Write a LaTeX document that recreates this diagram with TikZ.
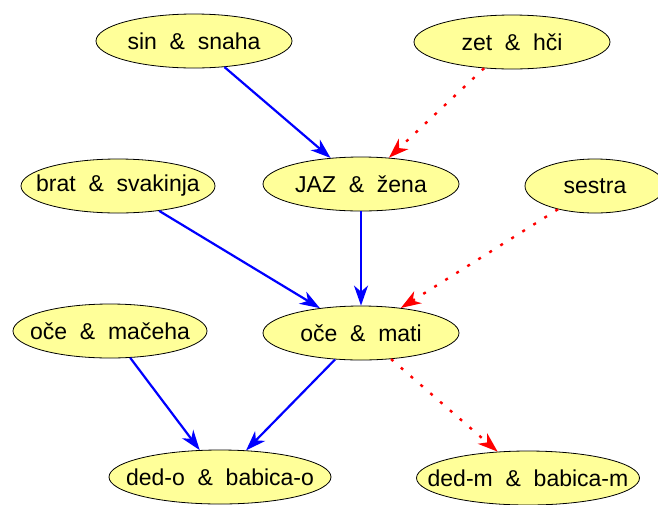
\documentclass[tikz,border=0pt]{standalone}
\usepackage{fontspec}
\setmainfont{Liberation Sans}
\usetikzlibrary{shapes,arrows.meta,positioning}
\definecolor{kin}{RGB}{255,255,153}

\begin{document}
\begin{tikzpicture}[x=1pt,y=-1pt]
			\tikzstyle{Couple}	= [ellipse, draw, line width=0.8pt, fill=kin, minimum height=54pt, inner sep=0pt, font=\fontsize{23}{27}\selectfont]
			\tikzstyle{Blood}	= [-{Stealth[length=20pt, width=14pt, inset=6pt]}, line width=2.2pt, blue]
			\tikzstyle{Inlaw}	= [-{Stealth[length=20pt, width=14pt, inset=6pt]}, line width=2.4pt, red, dash pattern=on 3pt off 10pt]

			\useasboundingbox (0,0) rectangle (658,504);

			\foreach \n/\x/\y/\w/\t in {ss/194/41/196/{sin~~\&~~snaha}, zh/512/42/196/{zet~~\&~~hči}, bs/118/186/194/{brat~~\&~~svakinja}, jz/361/184/196/{JAZ~~\&~~žena}, se/595/186/140/{sestra}, om/110/331/194/{oče~~\&~~mačeha}, mt/361/333/196/{oče~~\&~~mati}, dbo/220/477/222/{ded-o~~\&~~babica-o}, dbm/528/478/223/{ded-m~~\&~~babica-m}}
				\node (\n) at (\x, \y) [Couple, minimum width=\w pt] {\makebox[0pt]{\t}};
			\foreach \a/\b in {ss/jz, bs/mt, jz/mt, om/dbo, mt/dbo}
				\draw (\a) to (\b) [Blood];
			\foreach \a/\b in {zh/jz, se/mt, mt/dbm}
				\draw (\a) to (\b) [Inlaw];
		\end{tikzpicture}
\end{document}
